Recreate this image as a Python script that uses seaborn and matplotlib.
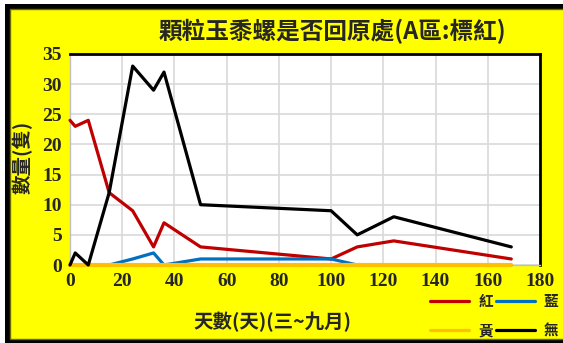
import matplotlib
matplotlib.use("Agg")
import matplotlib.pyplot as plt
from matplotlib.patches import Rectangle
from matplotlib.lines import Line2D
import seaborn as sns
import pandas as pd

# Observation days (March to September) and counts of snails found back in place
days = [0, 2, 7, 15, 24, 32, 36, 50, 100, 110, 124, 169]
red = [24, 23, 24, 12, 9, 3, 7, 3, 1, 3, 4, 1]
blue = [0, 0, 0, 0, 1, 2, 0, 1, 1, 0, 0, 0]
yellow = [0, 0, 0, 0, 0, 0, 0, 0, 0, 0, 0, 0]
black = [0, 2, 0, 12, 33, 29, 32, 10, 9, 5, 8, 3]

series_names = ["紅", "藍", "黃", "無"]
series_values = [red, blue, yellow, black]
colors = ["#C00000", "#0070C0", "#FFC000", "#000000"]

title = "顆粒玉黍螺是否回原處(A區:標紅)"
xlabel = "天數(天)(三~九月)"
ylabel = "數量(隻)"
xticks = [0, 20, 40, 60, 80, 100, 120, 140, 160, 180]
yticks = [0, 5, 10, 15, 20, 25, 30, 35]

df = pd.DataFrame({
    "day": days * len(series_names),
    "count": [v for vals in series_values for v in vals],
    "series": [n for n in series_names for _ in days],
})

sns.set_theme(style="white")
cjk = ["Noto Sans CJK TC", "DejaVu Sans"]
plt.rcParams["font.family"] = cjk

W, H = 563, 343
fig = plt.figure(figsize=(W / 100, H / 100), dpi=100)
fig.patch.set_facecolor("white")


def px(x0, y0, x1, y1):
    """Convert a pixel box (top-left origin) into figure fractions."""
    return x0 / W, 1 - y1 / H, (x1 - x0) / W, (y1 - y0) / H


# Outer frame: dark border with the yellow panel inside
x, y, w, h = px(5, 4, 600, 343)
fig.patches.append(Rectangle((x, y), w, h, transform=fig.transFigure,
                             facecolor="black", edgecolor="none", zorder=-2))
x, y, w, h = px(10, 9, 600, 339)
fig.patches.append(Rectangle((x, y), w, h, transform=fig.transFigure,
                             facecolor="#FFFF00", edgecolor="#6B6B00",
                             linewidth=1.0, zorder=-1))

ax = fig.add_axes(px(70, 54, 540, 265))
ax.set_zorder(2)
ax.set_facecolor("white")

sns.lineplot(data=df, x="day", y="count", hue="series", hue_order=series_names,
             palette=dict(zip(series_names, colors)), sort=False,
             linewidth=2.3, legend=False, ax=ax, estimator=None)
for k, line in enumerate(ax.get_lines()):
    line.set_clip_on(False)
    line.set_zorder(3 + k)
    if series_names[k] == "黃":
        line.set_linewidth(3.0)

ax.set_xlim(0, 180)
ax.set_ylim(0, 35)
ax.set_xticks(xticks)
ax.set_yticks(yticks)
ax.grid(True, color="#D9D9D9", linewidth=1.2)
ax.set_axisbelow(True)
ax.tick_params(length=0, pad=6)
ax.set_xlabel("")
ax.set_ylabel("")
for lab in ax.get_xticklabels() + ax.get_yticklabels():
    lab.set_family("Liberation Serif")
    lab.set_fontweight("bold")
    lab.set_fontsize(14)

for side in ["top", "right"]:
    ax.spines[side].set_color("black")
    ax.spines[side].set_linewidth(2)
for side in ["left", "bottom"]:
    ax.spines[side].set_color("#BFBFBF")
    ax.spines[side].set_linewidth(1)

fig.text(332 / W, 1 - 31 / H, title, ha="center", va="center",
         fontsize=17, fontweight="bold", family=cjk)
fig.text(272 / W, 1 - 322 / H, xlabel, ha="center", va="center",
         fontsize=14, fontweight="bold", family=cjk)
fig.text(22 / W, 1 - 157 / H, ylabel, ha="center", va="center",
         rotation=90, fontsize=14, fontweight="bold", family=cjk)

# Legend laid out row by row: 紅 藍 / 黃 無
order = [0, 2, 1, 3]
handles = [Line2D([0], [0], color=colors[i], linewidth=2.3) for i in order]
labels = [series_names[i] for i in order]
fig.legend(handles, labels, ncol=2, frameon=False,
           loc="upper left", bbox_to_anchor=(430 / W, 1 - 293 / H),
           handlelength=2.7, handletextpad=0.6, columnspacing=0.2,
           labelspacing=0.9, borderaxespad=0, borderpad=0,
           prop={"family": cjk, "weight": "bold", "size": 10.5})

fig.savefig("out.png", dpi=100, facecolor=fig.get_facecolor())
